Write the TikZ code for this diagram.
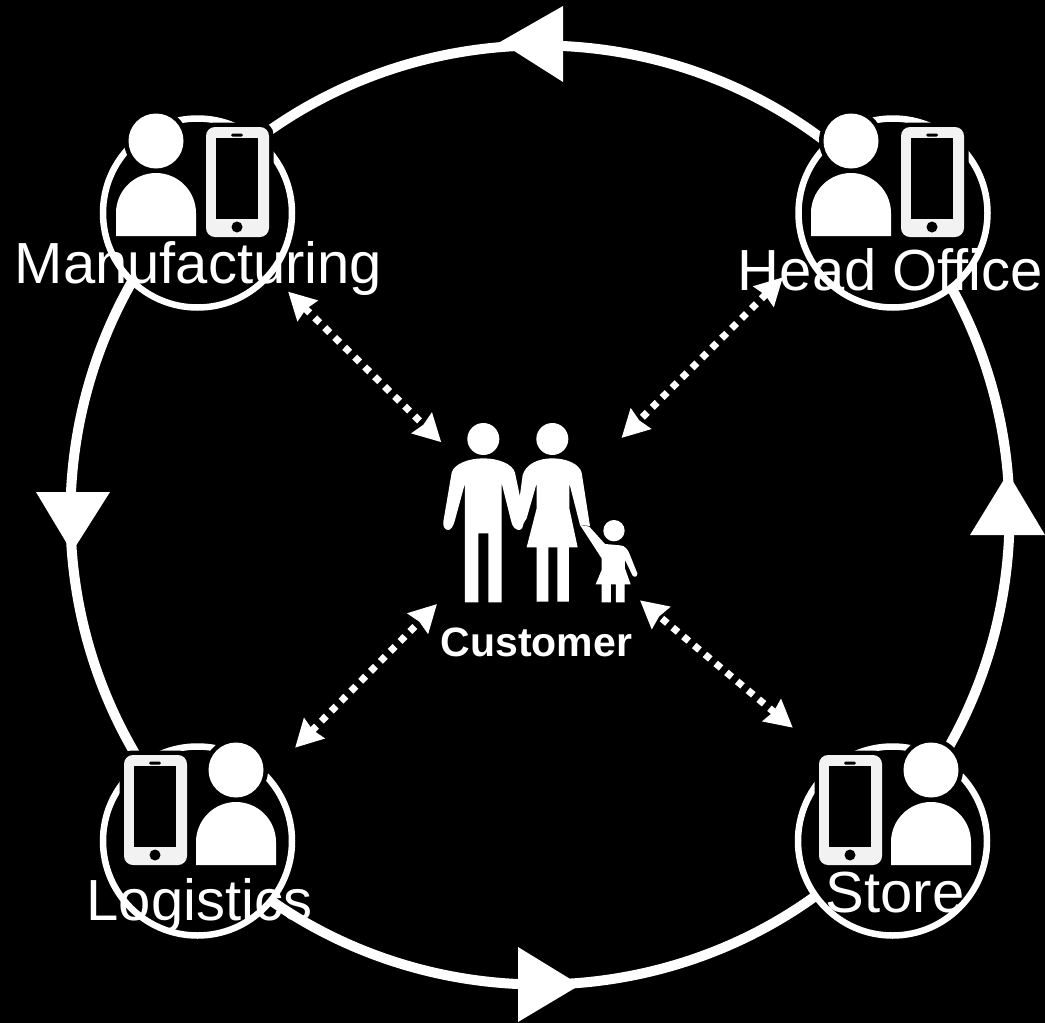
\documentclass[tikz,border=0pt]{standalone}
\usepackage{fontspec}
\setmainfont{Liberation Sans}
\usetikzlibrary{arrows.meta}

\definecolor{phonegray}{HTML}{F2F2F2}

\tikzset{
  ringline/.style={white, line width=10},
  hub/.style={circle, draw=white, fill=black, line width=6.5, minimum size=189, inner sep=0, outer sep=0},
  hublabel/.style={white, anchor=base, font=\fontsize{58}{60}\selectfont, inner sep=0},
  link/.style={<->, white, line width=7, dash pattern=on 7 off 7}
}

% Person glyph, placed by the centre of its head
\newcommand{\personglyph}[2]{
  \begin{scope}[shift={(#1,#2)}]
    \fill[black] (0,0) circle (32);
    \fill[white] (0,0) circle (27.5);
    \fill[white] (-40,95) -- (-40,72) .. controls (-40,50) and (-22,32) .. (0,32)
      .. controls (22,32) and (40,50) .. (40,72) -- (40,95) -- cycle;
  \end{scope}
}

% Phone glyph, placed by its upper left corner
\newcommand{\phoneglyph}[2]{
  \begin{scope}[shift={(#1,#2)}]
    \fill[black, rounded corners=12] (-4.5,-4.5) rectangle (67.5,114.5);
    \fill[phonegray, rounded corners=9] (0,0) rectangle (63,110);
    \fill[black] (10,11) rectangle (52,92);
    \fill[black, rounded corners=1.5] (25,6.5) rectangle (37,9.5);
    \fill[black] (31,100) circle (5.5);
  \end{scope}
}

\begin{document}
\begin{tikzpicture}[x=1pt,y=-1pt,>={Stealth[length=27pt,width=28pt,inset=2pt]}]

  \fill[black] (0,0) rectangle (1045,1023);
  \useasboundingbox (0,0) rectangle (1045,1023);

%%%%%%%%%%%%%%%%%%%%%%%%%%%%%%%%%%%%%%%%%%
  % Outer ring
  \coordinate (ringMfg) at (187.5,204);
  \coordinate (ringOffice) at (892.5,204);
  \coordinate (ringLog) at (187.5,826);
  \coordinate (ringStore) at (892.5,826);

  \draw[ringline] (ringOffice) to[bend right=48.6, looseness=1.025] (ringMfg);
  \draw[ringline] (ringMfg) to[bend right=41.4, looseness=0.973] (ringLog);
  \draw[ringline] (ringLog) to[bend right=48.6, looseness=1.025] (ringStore);
  \draw[ringline] (ringStore) to[bend right=41.4, looseness=0.973] (ringOffice);

  % Ring arrowheads
  \fill[white] (500,42) -- (563,6) -- (563,82) -- cycle;
  \fill[white] (72,552) -- (36,492) -- (110,492) -- cycle;
  \fill[white] (580,985) -- (518,947) -- (518,1022) -- cycle;
  \fill[white] (1008,473) -- (970,535) -- (1045,535) -- cycle;

%%%%%%%%%%%%%%%%%%%%%%%%%%%%%%%%%%%%%%%%%%
  % Hubs
  \node[hub] (mfg) at (197.5,213) {};
  \node[hub] (office) at (893,213) {};
  \node[hub] (logistics) at (197.5,841) {};
  \node[hub] (store) at (892.5,841) {};

  \personglyph{156}{141}
  \phoneglyph{206}{127}
  \personglyph{851}{141}
  \phoneglyph{901}{127}
  \phoneglyph{124}{755}
  \personglyph{236}{770}
  \phoneglyph{819}{755}
  \personglyph{931}{770}

  \node[hublabel] (mfgLabel) at (198.5,283) {Manufacturing};
  \node[hublabel] (officeLabel) at (890.5,290) {Head Office};
  \node[hublabel] (logisticsLabel) at (199.5,920) {Logistics};
  \node[hublabel] (storeLabel) at (895,912) {Store};

%%%%%%%%%%%%%%%%%%%%%%%%%%%%%%%%%%%%%%%%%%
  % Customer family
  \node[minimum width=203, minimum height=166, inner sep=0, outer sep=0] (customer) at (538.5,521) {};

  \begin{scope}[shift={(420,400)}, scale=0.3333]
    % Man
    \fill[white] (190,117) circle (48);
    \fill[white] (190,175) .. controls (235,175) and (278,192) .. (285,218) -- (300,290) -- (310,360)
      .. controls (312,380) and (305,392) .. (295,390) .. controls (285,388) and (277,380) .. (273,362)
      -- (245,250) -- (245,607) -- (205,607) -- (205,400) -- (175,400) -- (175,607) -- (135,607) -- (135,250)
      -- (105,360) .. controls (100,380) and (92,390) .. (85,390) .. controls (75,390) and (68,380) .. (70,365)
      -- (95,218) .. controls (102,192) and (145,175) .. (190,175) -- cycle;
    % Woman
    \fill[white] (397,175) .. controls (440,175) and (478,192) .. (485,218) -- (510,378) -- (480,375)
      -- (448,250) -- (448,325) -- (473,442) -- (447,442) -- (447,605) -- (412,605) -- (412,442)
      -- (385,442) -- (385,605) -- (350,605) -- (350,442) -- (320,442) -- (350,325) -- (350,250)
      -- (320,355) -- (298,390) -- (298,300) -- (308,225) .. controls (318,192) and (355,175) .. (397,175) -- cycle;
    \fill[white] (397,117) circle (48);
    % Child
    \fill[white] (582,392) circle (32);
    \fill[white] (508,380) -- (555,432) -- (600,436) .. controls (615,436) and (625,450) .. (630,465)
      -- (652,520) .. controls (654,530) and (642,533) .. (638,527) -- (615,480) -- (615,505) -- (632,553)
      -- (614,553) -- (614,607) -- (588,607) -- (588,553) -- (573,553) -- (573,607) -- (545,607) -- (545,553)
      -- (527,553) -- (545,510) -- (545,475) -- (480,375) -- cycle;
  \end{scope}

  \node[white, anchor=base, inner sep=0, font=\fontsize{41}{43}\selectfont\bfseries] (customerLabel) at (536.5,656) {Customer};

  % Dotted links
  \draw[link, shorten <=25.5pt, shorten >=-6pt] (mfg.-40.2) -- (customer.north west);
  \draw[link, shorten <=34.5pt] (office.205.3) -- (customer.45.7);
  \draw[link, shorten <=40.5pt] (logistics.43.4) -- (customer.south west);
  \draw[link, shorten <=57.5pt] (store.126.2) -- (customer.-38.2);

\end{tikzpicture}
\end{document}
